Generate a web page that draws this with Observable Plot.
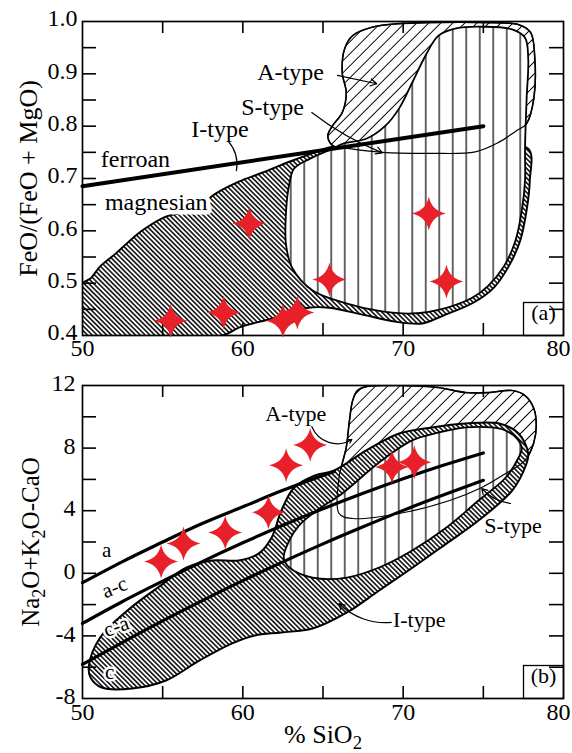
<!DOCTYPE html>
<html>
<head>
<meta charset="utf-8">
<script src="https://cdn.jsdelivr.net/npm/d3@7"></script>
<script src="https://cdn.jsdelivr.net/npm/@observablehq/plot@0.6"></script>
<style>
  body { margin: 0; background: #fff; }
  #chart { width: 572px; }
  #chart svg { display: block; font-family: "Liberation Serif", "Times New Roman", serif; }
  #chart svg text { font-family: "Liberation Serif", "Times New Roman", serif; }
</style>
</head>
<body>
<div id="chart"></div>
<script>
// ---------- shared axis values ----------
const xLabels = [50, 60, 70];
const xLastLabel = [80];
const xTicks = [55, 60, 65, 70, 75];

// ---------- panel (a): FeO/(FeO+MgO) vs SiO2 ----------
const feTickLabels = [0.4, 0.5, 0.6, 0.7, 0.8, 0.9, 1.0];
const feTicks = [0.45, 0.5, 0.55, 0.6, 0.65, 0.7, 0.75, 0.8, 0.85, 0.9, 0.95];

const iTypeFeNo = [[50,0.40],[50,0.499],[50.5,0.509],[51.1,0.532],[52.05,0.556],[52.8,0.577],[53.7,0.600],[55.2,0.627],[56.2,0.635],[57.3,0.648],[58.3,0.671],[59.75,0.694],[61.2,0.711],[62.9,0.732],[64.5,0.750],[65.6,0.761],[68.7,0.751],[71.8,0.750],[74.5,0.751],[77.8,0.757],[77.9,0.696],[77.7,0.639],[77.3,0.581],[76.6,0.533],[75.65,0.491],[74.4,0.463],[72.5,0.438],[71.2,0.423],[69.6,0.426],[67.45,0.440],[65.4,0.453],[64.1,0.453],[62.86,0.442],[61.8,0.432],[60.75,0.424],[59.75,0.415],[58.7,0.400]];
const sTypeFeNo = [[63.2,0.719],[64.2,0.738],[65.6,0.757],[66.3,0.767],[67.7,0.776],[68.9,0.801],[69.75,0.834],[70.56,0.883],[71.4,0.935],[72.2,0.973],[73.3,0.987],[74.9,0.99],[76.8,0.985],[77.6,0.969],[77.8,0.929],[77.7,0.853],[77.6,0.757],[77.6,0.696],[77.4,0.639],[77.0,0.581],[76.3,0.533],[75.3,0.495],[74.3,0.472],[72.7,0.453],[70.56,0.442],[68.5,0.447],[66.5,0.461],[64.35,0.486],[63.1,0.528],[62.7,0.572],[62.7,0.639],[62.9,0.69]];
const aTypeFeNo = [[65.6,0.763],[65.3,0.782],[65.6,0.801],[66.2,0.826],[66.45,0.864],[66.2,0.902],[66.35,0.948],[66.85,0.973],[68.05,0.989],[69.75,0.996],[71.8,0.998],[74.9,0.998],[77.2,0.994],[77.95,0.979],[78.2,0.935],[78.15,0.853],[77.7,0.805],[77.0,0.790],[75.95,0.769],[74.5,0.751],[71.8,0.748],[68.7,0.750],[66.65,0.757]];
const ferroanBoundary = [[50,0.685],[75,0.80]];
const feSamples = [
  {sio2: 55.5, feno: 0.428}, {sio2: 58.8, feno: 0.444}, {sio2: 60.4, feno: 0.614},
  {sio2: 62.5, feno: 0.428}, {sio2: 63.4, feno: 0.444}, {sio2: 65.4, feno: 0.507},
  {sio2: 71.6, feno: 0.633}, {sio2: 72.7, feno: 0.503}
];
const feLabels = [
  {text: "A-type", x: 62.98, y: 0.902},
  {text: "S-type", x: 61.85, y: 0.836},
  {text: "I-type", x: 58.57, y: 0.794},
  {text: "ferroan", x: 53.3, y: 0.737}
];
const feHaloLabels = [{text: "magnesian", x: 54.6, y: 0.654}];
const feLeaders = [
  {x1: 65.9, y1: 0.897, x2: 68.35, y2: 0.881, bend: 0, head: 9},
  {x1: 64.3, y1: 0.826, x2: 68.7, y2: 0.749, bend: -8, head: 9},
  {x1: 59.1, y1: 0.771, x2: 59.6, y2: 0.715, bend: 25, head: 0}
];

// ---------- panel (b): Na2O+K2O-CaO vs SiO2 ----------
const maliTickLabels = [12, 8, 4, 0, -4, -8];
const maliTicks = [10, 8, 6, 4, 2, 0, -2, -4, -6];

const iTypeMali = [[50.5,-6.66],[50.4,-5.89],[51.1,-4.1],[52.8,-2.38],[54.7,-0.91],[56.5,0.37],[58.1,0.82],[59.75,0.82],[61.0,1.27],[61.8,2.29],[62.4,4.0],[63.2,5.48],[64.5,6.25],[65.7,6.57],[67.7,7.85],[69.75,8.93],[71.8,9.32],[73.9,9.57],[76.0,9.57],[77.2,8.93],[77.8,7.65],[77.6,6.76],[76.8,5.29],[74.7,3.37],[72.7,1.9],[70.6,0.37],[68.5,-1.1],[66.5,-2.5],[64.35,-3.53],[62.4,-3.78],[60.75,-3.97],[59.3,-4.49],[57.3,-5.57],[55.2,-6.85],[53.1,-7.36],[51.2,-7.3]];
const sTypeMali = [[62.55,1.0],[62.9,2.1],[63.5,3.05],[64.6,4.0],[66.2,5.1],[68.5,7.08],[70.56,8.49],[72.24,9.0],[73.9,9.32],[75.5,9.32],[76.4,9.12],[77.1,8.61],[77.4,7.97],[77.2,7.4],[76.4,6.12],[74.7,4.65],[72.7,2.93],[70.56,1.46],[68.5,0.37],[66.5,-0.27],[64.35,-0.27],[62.9,0.37]];
const aTypeMali = [[66.0,3.82],[66.0,6.12],[66.2,7.02],[66.45,8.04],[66.65,9.76],[66.85,11.04],[67.15,11.68],[67.75,11.94],[69.75,12.0],[72.2,11.87],[73.9,11.55],[75.3,11.55],[76.8,11.68],[77.6,11.36],[78.15,10.53],[78.3,9.44],[78.15,8.36],[77.6,7.21],[76.4,6.38],[74.9,5.48],[72.9,4.65],[69.75,3.82],[66.85,3.5]];
const alkalicBoundary = [[50,-0.6],[52.5,0.75],[55,2.0],[57.5,3.2],[60,4.25],[62.5,5.3],[65.7,6.5]];
const alkaliCalcicBoundary = [[50,-3.2],[52.5,-1.8],[55,-0.5],[57.5,0.76],[60,1.95],[62.5,3.07],[65,4.12],[67.5,5.11],[70,6.04],[72.5,6.9],[75,7.69]];
const calcAlkalicBoundary = [[50,-5.82],[52.5,-4.41],[55,-3.04],[57.5,-1.73],[60,-0.47],[62.5,0.73],[65,1.88],[67.5,2.97],[70,4.02],[72.5,5.0],[75,5.94]];
const maliSamples = [
  {sio2: 54.9, mali: 0.75}, {sio2: 56.3, mali: 1.9}, {sio2: 58.9, mali: 2.6},
  {sio2: 61.6, mali: 3.9}, {sio2: 62.7, mali: 6.9}, {sio2: 64.2, mali: 8.2},
  {sio2: 69.3, mali: 6.8}, {sio2: 70.7, mali: 7.1}
];
const maliLabels = [
  {text: "A-type", x: 63.3, y: 10.15},
  {text: "S-type", x: 76.85, y: 3.05},
  {text: "I-type", x: 71.0, y: -2.95}
];
const seriesLabels = [
  {text: "a", x: 51.5, y: 1.5, angle: 0},
  {text: "a-c", x: 52.0, y: -0.9, angle: -22},
  {text: "c-a", x: 52.1, y: -3.4, angle: -20},
  {text: "c", x: 51.7, y: -6.35, angle: 0}
];
const maliLeaders = [
  {x1: 64.3, y1: 9.38, x2: 66.8, y2: 8.55, bend: -50, head: 5},
  {x1: 76.7, y1: 4.46, x2: 74.9, y2: 5.42, bend: 20, head: 8},
  {x1: 69.25, y1: -3.14, x2: 66.0, y2: -1.93, bend: 25, head: 8}
];

// ---------- styling helpers ----------
const serif = "Liberation Serif";
const RED = "#e8202a";
const W = 572, ML = 82, MR = 9;
const innerW = W - ML - MR;
const txt = {fontFamily: serif};

// four-pointed sparkle used for the sample symbols
const sparkle = {
  draw(context, size) {
    const r = Math.sqrt(size / Math.PI);
    const k = 0.17 * r;
    context.moveTo(0, -r);
    context.quadraticCurveTo(k, -k, r, 0);
    context.quadraticCurveTo(k, k, 0, r);
    context.quadraticCurveTo(-k, k, -r, 0);
    context.quadraticCurveTo(-k, -k, 0, -r);
    context.closePath();
  }
};

function addHatches(svg, prefix) {
  const defs = d3.select(svg).insert("defs", ":first-child");
  const specs = [
    {id: `${prefix}-itype`, spacing: 3.4, angle: -45, width: 1.5},
    {id: `${prefix}-atype`, spacing: 8.5, angle: 45, width: 1.0},
    {id: `${prefix}-stype`, spacing: 13.5, angle: 0, width: 1.2}
  ];
  for (const s of specs) {
    const p = defs.append("pattern")
      .attr("id", s.id)
      .attr("patternUnits", "userSpaceOnUse")
      .attr("width", s.spacing).attr("height", s.spacing)
      .attr("patternTransform", `rotate(${s.angle})`);
    p.append("rect").attr("width", s.spacing).attr("height", s.spacing).attr("fill", "white");
    p.append("line")
      .attr("x1", s.spacing / 2).attr("x2", s.spacing / 2)
      .attr("y1", -1).attr("y2", s.spacing + 1)
      .attr("stroke", "black").attr("stroke-width", s.width);
  }
}

function subscriptDigits(svg, label) {
  d3.select(svg).selectAll("text")
    .filter(function () { return this.textContent === label; })
    .each(function () {
      const t = d3.select(this);
      t.text(null);
      let lowered = false;
      for (const part of label.split(/(\d)/).filter(s => s)) {
        const span = t.append("tspan").text(part);
        if (/^\d$/.test(part)) {
          span.attr("font-size", "0.72em").attr("dy", 6);
          lowered = true;
        } else if (lowered) {
          span.attr("dy", -6);
          lowered = false;
        }
      }
    });
}

function field(data, fill, strokeWidth) {
  return Plot.line(data, {
    x: d => d[0], y: d => d[1], curve: "catmull-rom-closed",
    fill, stroke: "black", strokeWidth, clip: true
  });
}

function frameMarks(innerH, yTicks, tag) {
  return [
    Plot.tickX(xTicks, {x: d => d, insetTop: innerH - 12, strokeWidth: 1.6}),
    Plot.tickX(xTicks, {x: d => d, insetBottom: innerH - 12, strokeWidth: 1.6}),
    Plot.tickY(yTicks, {y: d => d, insetRight: innerW - 14, strokeWidth: 1.6}),
    Plot.tickY(yTicks, {y: d => d, insetLeft: innerW - 14, strokeWidth: 1.6}),
    Plot.frame({strokeWidth: 1.7}),
    Plot.frame({insetLeft: innerW - 40, insetTop: innerH - 33, strokeWidth: 1.3}),
    Plot.text([tag], {...txt, frameAnchor: "bottom-right", textAnchor: "middle", dx: -20, dy: -16, text: d => d, fontSize: 22})
  ];
}

function xAxisLabels(dy) {
  return [
    Plot.text(xLabels, {...txt, x: d => d, frameAnchor: "bottom", dy, text: d => String(d), fontSize: 24}),
    Plot.text(xLastLabel, {...txt, x: d => d, frameAnchor: "bottom", dy, dx: -5, text: d => String(d), fontSize: 24})
  ];
}

function leaders(list) {
  return list.map(l => Plot.arrow([l], {
    x1: "x1", y1: "y1", x2: "x2", y2: "y2",
    bend: l.bend, headLength: l.head, strokeWidth: 1.2, stroke: "black"
  }));
}

// ---------- panel (a) ----------
const innerHa = 370 - 21 - 35;
const panelA = Plot.plot({
  width: W, height: 370,
  marginTop: 21, marginBottom: 35, marginLeft: ML, marginRight: MR,
  x: {domain: [50, 80], axis: null},
  y: {domain: [0.4, 1.0], axis: null},
  style: {fontFamily: serif, background: "white", overflow: "visible"},
  marks: [
    field(iTypeFeNo, "url(#a-itype)", 1.9),
    field(aTypeFeNo, "url(#a-atype)", 1.6),
    field(sTypeFeNo, "url(#a-stype)", 1.8),
    field(aTypeFeNo, "none", 1.2),
    Plot.line(ferroanBoundary, {x: d => d[0], y: d => d[1], stroke: "black", strokeWidth: 4}),
    Plot.text(feHaloLabels, {...txt, x: "x", y: "y", text: "text", fontSize: 24, stroke: "white", strokeWidth: 9, fill: "black"}),
    Plot.text(feLabels, {...txt, x: "x", y: "y", text: "text", fontSize: 24}),
    ...leaders(feLeaders),
    ...frameMarks(innerHa, feTicks, "(a)"),
    ...xAxisLabels(20),
    Plot.text(feTickLabels, {...txt, y: d => d, frameAnchor: "left", dx: -5, dy: -3, textAnchor: "end", text: d => d.toFixed(1), fontSize: 24}),
    Plot.text(["FeO/(FeO + MgO)"], {...txt, frameAnchor: "left", textAnchor: "middle", dx: -54, rotate: -90, text: d => d, fontSize: 26}),
    Plot.dot(feSamples, {x: "sio2", y: "feno", r: 17, symbol: sparkle, fill: RED, stroke: "none"})
  ]
});
addHatches(panelA, "a");

// ---------- panel (b) ----------
const innerHb = 383 - 15 - 55;
const panelB = Plot.plot({
  width: W, height: 383,
  marginTop: 15, marginBottom: 55, marginLeft: ML, marginRight: MR,
  x: {domain: [50, 80], axis: null},
  y: {domain: [-8, 12], axis: null},
  style: {fontFamily: serif, background: "white", overflow: "visible"},
  marks: [
    field(aTypeMali, "url(#b-atype)", 1.6),
    field(iTypeMali, "url(#b-itype)", 2.0),
    field(sTypeMali, "url(#b-stype)", 1.8),
    field(aTypeMali, "none", 1.2),
    Plot.line(alkalicBoundary, {x: d => d[0], y: d => d[1], curve: "natural", stroke: "black", strokeWidth: 3.2}),
    Plot.line(alkaliCalcicBoundary, {x: d => d[0], y: d => d[1], curve: "natural", stroke: "black", strokeWidth: 3.2}),
    Plot.line(calcAlkalicBoundary, {x: d => d[0], y: d => d[1], curve: "natural", stroke: "black", strokeWidth: 3.2}),
    Plot.text(seriesLabels, {...txt, x: "x", y: "y", text: "text", rotate: "angle", fontSize: 21, stroke: "white", strokeWidth: 5, fill: "black"}),
    Plot.text(maliLabels, {...txt, x: "x", y: "y", text: "text", fontSize: 22}),
    ...leaders(maliLeaders),
    ...frameMarks(innerHb, maliTicks, "(b)"),
    ...xAxisLabels(21),
    Plot.text(maliTickLabels, {...txt, y: d => d, frameAnchor: "left", dx: -7, dy: -2, textAnchor: "end", text: d => String(d), fontSize: 24}),
    Plot.text(["Na2O+K2O-CaO"], {...txt, frameAnchor: "left", textAnchor: "middle", dx: -52, rotate: -90, text: d => d, fontSize: 25}),
    Plot.text(["% SiO2"], {...txt, frameAnchor: "bottom", dy: 44, text: d => d, fontSize: 26}),
    Plot.dot(maliSamples, {x: "sio2", y: "mali", r: 17, symbol: sparkle, fill: RED, stroke: "none"})
  ]
});
addHatches(panelB, "b");
subscriptDigits(panelB, "Na2O+K2O-CaO");
subscriptDigits(panelB, "% SiO2");

document.getElementById("chart").append(panelA, panelB);
</script>
</body>
</html>
